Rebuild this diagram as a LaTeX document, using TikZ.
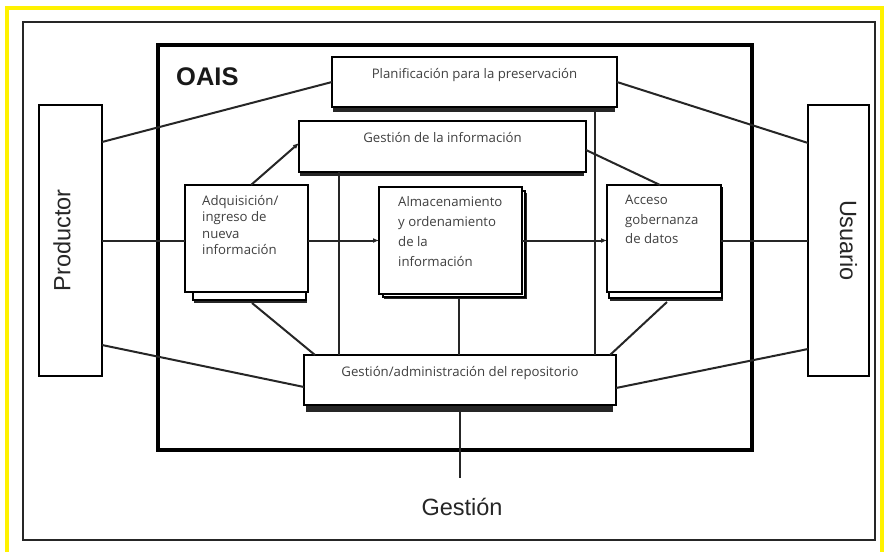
\documentclass[tikz,border=0pt]{standalone}
\usepackage{fontspec}
\setmainfont{Liberation Sans}
\newfontfamily\boxfont{Open Sans}
\usetikzlibrary{calc,arrows.meta}
\pgfdeclarelayer{under}
\pgfsetlayers{under,main}
\begin{document}
\begin{tikzpicture}[x=1pt,y=-1pt,
  box/.style={draw=black, line width=2pt, fill=white, inner sep=0pt, outer sep=0pt, anchor=north west},
  conn/.style={draw=black!85, line width=2pt},
  arr/.style={conn, -{Latex[length=6pt,width=5pt]}},
  btext/.style={font=\boxfont\fontsize{13.2}{16}\selectfont, text=black!75, inner sep=0pt},
  big/.style={font=\fontsize{23.5}{27}\selectfont, text=black!85, inner sep=0pt},
  shadowfill/.style={fill=black!85},
  backbox/.style={draw=black, line width=1.6pt, fill=white},
]
\useasboundingbox (0,0) rectangle (885,551);
\begin{pgfonlayer}{under}
\fill[white] (0,0) rectangle (885,551);
\end{pgfonlayer}
% frames
\draw[yellow, line width=3.5pt] (7,600) -- (7,8) -- (882,8) -- (882,600);
\draw[line width=2.5pt, black!85] (23,22) rectangle (875,540);
\draw[line width=4.8pt] (158,45) rectangle (752,450);
\node[font=\bfseries\fontsize{25.5}{30}\selectfont, anchor=base west, inner sep=0pt, text=black!90] (oais) at (176,85) {OAIS};

% boxes
\node[box, minimum width=63, minimum height=271] (prod) at (39,105) {};
\node[box, minimum width=61, minimum height=271] (usu) at (808,105) {};
\node[box, minimum width=285, minimum height=50] (plan) at (332,57) {};
\node[box, minimum width=287, minimum height=51] (gi) at (299,121) {};
\node[box, minimum width=123, minimum height=107] (adq) at (185,185) {};
\node[box, minimum width=143, minimum height=107] (alm) at (379,187) {};
\node[box, minimum width=114, minimum height=107] (acc) at (607,185) {};
\node[box, minimum width=312, minimum height=50] (rep) at (304,355) {};

\begin{pgfonlayer}{under}
\fill[shadowfill] ($(plan.south west)+(1,-6)$) rectangle ($(plan.south east)+(-2,5)$);
\fill[shadowfill] ($(gi.south west)+(1,-6)$) rectangle ($(gi.south east)+(-2,4)$);
\fill[shadowfill] ($(rep.south west)+(2,-6)$) rectangle ($(rep.south east)+(-3,7)$);
% stacked back boxes
\fill[shadowfill] ($(adq.south west)+(9,-10)$) rectangle ($(adq.south east)+(-1,11)$);
\draw[backbox] ($(adq.south west)+(8,-12)$) rectangle ($(adq.south east)+(-2,8)$);
\fill[shadowfill] ($(alm.north west)+(5,6)$) rectangle ($(alm.south east)+(5,5)$);
\draw[backbox] ($(alm.north west)+(4,4)$) rectangle ($(alm.south east)+(3,3)$);
\fill[shadowfill] ($(acc.north west)+(3,5)$) rectangle ($(acc.south east)+(2,9)$);
\draw[backbox] ($(acc.north west)+(2,3)$) rectangle ($(acc.south east)+(1,6)$);
\end{pgfonlayer}

% texts
\node[btext, anchor=base] (tplan) at ($(plan.north)+(0,21)$) {Planificación para la preservación};
\node[btext, anchor=base] (tgi) at ($(gi.north)+(0,21)$) {Gestión de la información};
\node[btext, anchor=base] (trep) at ($(rep.north)+(0,21)$) {Gestión/administración del repositorio};
\node[btext, anchor=north west, align=left, font=\boxfont\fontsize{13.2}{16.5}\selectfont] (tadq) at (202,195) {Adquisición/\\ingreso de\\nueva\\información};
\node[btext, anchor=north west, align=left, font=\boxfont\fontsize{13.2}{20}\selectfont] (talm) at (398,196) {Almacenamiento\\y ordenamiento\\de la\\información};
\node[btext, anchor=north west, align=left, font=\boxfont\fontsize{13.2}{19.5}\selectfont] (tacc) at (625,195) {Acceso\\gobernanza\\de datos};
\node[big, rotate=90] (tprod) at ($(prod.center)+(-8.5,0)$) {Productor};
\node[big, rotate=-90] (tusu) at ($(usu.center)+(10,0)$) {Usuario};
\node[big, anchor=base] (tgest) at (462,515) {Gestión};

% connectors
\coordinate (v1) at ($(gi.south west)+(40,0)$);
\coordinate (v2) at ($(plan.south west)+(263,0)$);
\coordinate (v3) at ($(alm.south)+(8,4)$);
\coordinate (adqb) at ($(adq.south west)+(67,11)$);
\coordinate (accb) at ($(acc.south west)+(60,10)$);
\coordinate (gend) at (460,478);

\draw[conn] ($(prod.north east)+(0,37)$) -- (plan.west);
\draw[conn] (plan.east) -- ($(usu.north west)+(0,38)$);
\draw[conn] (prod.east) -- (prod.east -| adq.west);
\draw[arr] (prod.east -| adq.east) -- (prod.east -| alm.west);
\draw[arr] (prod.east -| alm.east) -- (prod.east -| acc.west);
\draw[conn] (prod.east -| acc.east) -- (usu.west);
\draw[arr] ($(adq.north west)+(66,0)$) -- ($(gi.north west)+(0,22)$);
\draw[conn] ($(gi.north east)+(0,29)$) -- ($(acc.north west)+(53,0)$);
\draw[conn] (v1) -- (v1 |- rep.north);
\draw[conn] ($(v2)+(0,5)$) -- (v2 |- rep.north);
\draw[conn] (v3) -- (v3 |- rep.north);
\draw[conn] (adqb) -- ($(rep.north west)+(11,0)$);
\draw[conn] (accb) -- ($(rep.north east)+(-6,0)$);
\draw[conn] ($(prod.south east)+(0,-31)$) -- ($(rep.north west)+(0,32)$);
\draw[conn] ($(rep.north east)+(0,33)$) -- ($(usu.south west)+(0,-27)$);
\draw[conn] ($(rep.south)+(0,7)$) -- (gend);
\end{tikzpicture}
\end{document}
